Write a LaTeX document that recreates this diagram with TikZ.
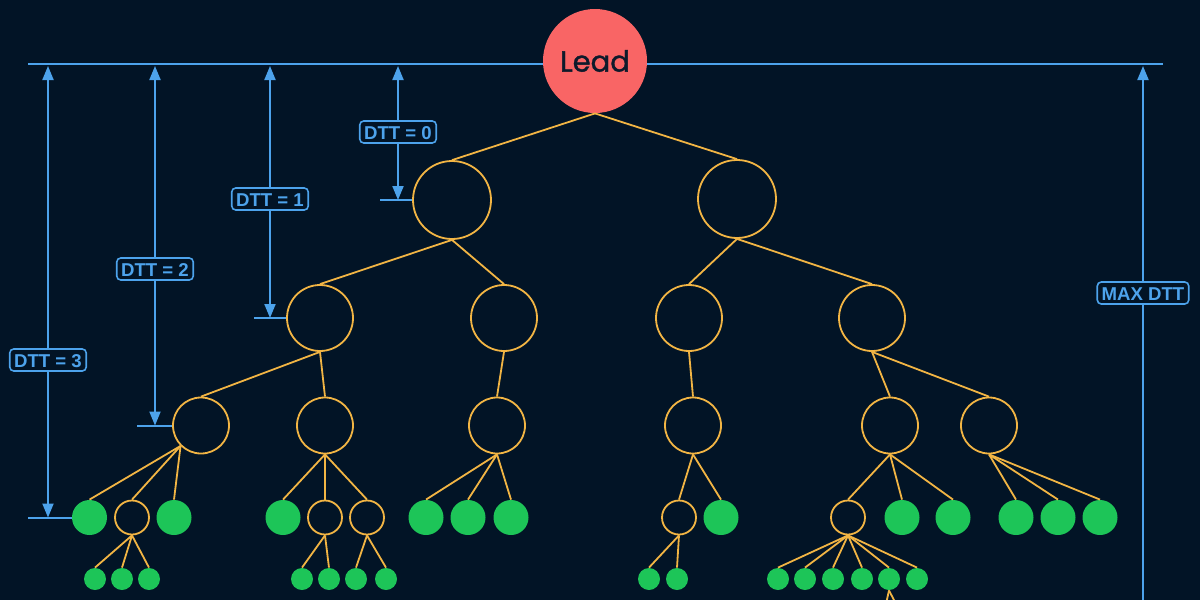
\documentclass[tikz,border=0pt]{standalone}
\usepackage{fontspec}
\setmainfont{Liberation Sans}
\newfontfamily\leadfont{Poppins}[FakeBold=1.2]
\usetikzlibrary{arrows.meta}
\definecolor{bg}{HTML}{021426}
\definecolor{dttblue}{HTML}{4DA3EC}
\definecolor{tree}{HTML}{F2B544}
\definecolor{leafgreen}{HTML}{1DC558}
\definecolor{leadred}{HTML}{F96565}
\definecolor{leadtext}{HTML}{0E1A2B}
\begin{document}
\begin{tikzpicture}[x=0.5pt,y=-0.5pt,
  blueline/.style={draw=dttblue,line width=1pt},
  tipA/.tip={Triangle[width=5.5pt,length=7pt]},
  dimarrow/.style={blueline,tipA-tipA},
  uparrow/.style={blueline,-tipA},
  lab/.style={draw=dttblue,line width=0.8pt,rounded corners=2pt,fill=bg,text=dttblue,
    font=\bfseries\fontsize{9.3}{10}\selectfont,inner xsep=2.2pt,inner ysep=2pt,text height=7pt,text depth=0pt},
  br/.style={draw=tree,line width=0.9pt},
  open/.style={circle,draw=tree,line width=0.9pt,inner sep=0pt,fill=bg},
  leaf/.style={circle,fill=leafgreen,inner sep=0pt},
  big/.style={leaf,minimum size=17.5pt},
  small/.style={leaf,minimum size=11pt},
  obig/.style={open,minimum size=17pt},
]
\fill[bg] (0,0) rectangle (1200,600);
\useasboundingbox (0,0) rectangle (1200,600);

% top reference line
\coordinate (tl) at (28,64);
\coordinate (tr) at (1163,64);
\draw[blueline] (tl) -- (tr);

% root
\node[circle,fill=leadred,minimum size=52pt,inner sep=0pt,text=leadtext,
  font=\leadfont\fontsize{14.5}{15}\selectfont] (lead) at (595,61) {Lead};

% level 1
\node[open,minimum size=39pt] (l1a) at (452,200) {};
\node[open,minimum size=39pt] (l1b) at (737,199) {};
% level 2
\node[open,minimum size=33pt] (l2a) at (320,318) {};
\node[open,minimum size=33pt] (l2b) at (504,318) {};
\node[open,minimum size=33pt] (l2c) at (689,318) {};
\node[open,minimum size=33pt] (l2d) at (872,318) {};
% level 3
\node[open,minimum size=28pt] (c1) at (201,425.5) {};
\node[open,minimum size=28pt] (c2) at (325,425.5) {};
\node[open,minimum size=28pt] (c3) at (497,425.5) {};
\node[open,minimum size=28pt] (c4) at (693,425.5) {};
\node[open,minimum size=28pt] (c5) at (890,425.5) {};
\node[open,minimum size=28pt] (c6) at (989,425.5) {};
% level 4
\node[big]  (a1) at (89.5,517.5) {};
\node[obig] (a2) at (132,517.5) {};
\node[big]  (a3) at (174,517.5) {};
\node[big]  (b1) at (283,517.5) {};
\node[obig] (b2) at (325,517.5) {};
\node[obig] (b3) at (367,517.5) {};
\node[big]  (d1) at (426,517.5) {};
\node[big]  (d2) at (468,517.5) {};
\node[big]  (d3) at (511,517.5) {};
\node[obig] (e1) at (679,517.5) {};
\node[big]  (e2) at (721,517.5) {};
\node[obig] (f1) at (848,517.5) {};
\node[big]  (f2) at (902,517.5) {};
\node[big]  (f3) at (953,517.5) {};
\node[big]  (g1) at (1016,517.5) {};
\node[big]  (g2) at (1058,517.5) {};
\node[big]  (g3) at (1100,517.5) {};
% level 5
\node[small] (a21) at (95,579) {};
\node[small] (a22) at (122,579) {};
\node[small] (a23) at (149,579) {};
\node[small] (b21) at (302,579) {};
\node[small] (b22) at (329,579) {};
\node[small] (b31) at (356,579) {};
\node[small] (b32) at (386,579) {};
\node[small] (e11) at (649,579) {};
\node[small] (e12) at (677,579) {};
\node[small] (f11) at (778,579) {};
\node[small] (f12) at (805,579) {};
\node[small] (f13) at (833,579) {};
\node[small] (f14) at (862,579) {};
\node[small] (f15) at (889,579) {};
\node[small] (f16) at (917,579) {};
\coordinate (fx1) at (886,604);
\coordinate (fx2) at (896,604);

% branches
\draw[br] (lead.south) -- (l1a.north);
\draw[br] (lead.south) -- (l1b.north);
\draw[br] (l1a.south) -- (l2a.north);
\draw[br] (l1a.south) -- (l2b.north);
\draw[br] (l1b.south) -- (l2c.north);
\draw[br] (l1b.south) -- (l2d.north);
\draw[br] (l2a.south) -- (c1.north);
\draw[br] (l2a.south) -- (c2.north);
\draw[br] (l2b.south) -- (c3.north);
\draw[br] (l2c.south) -- (c4.north);
\draw[br] (l2d.south) -- (c5.north);
\draw[br] (l2d.south) -- (c6.north);
\foreach \k in {a1,a2,a3} \draw[br] (c1.-135) -- (\k.north);
\foreach \k in {b1,b2,b3} \draw[br] (c2.south) -- (\k.north);
\foreach \k in {d1,d2,d3} \draw[br] (c3.south) -- (\k.north);
\foreach \k in {e1,e2} \draw[br] (c4.south) -- (\k.north);
\foreach \k in {f1,f2,f3} \draw[br] (c5.south) -- (\k.north);
\foreach \k in {g1,g2,g3} \draw[br] (c6.south) -- (\k.north);
\foreach \k in {a21,a22,a23} \draw[br] (a2.south) -- (\k.north);
\foreach \k in {b21,b22} \draw[br] (b2.south) -- (\k.north);
\foreach \k in {b31,b32} \draw[br] (b3.south) -- (\k.north);
\foreach \k in {e11,e12} \draw[br] (e1.south) -- (\k.north);
\foreach \k in {f11,f12,f13,f14,f15,f16} \draw[br] (f1.south) -- (\k.north);
\draw[br] (f15.south) -- (fx1);
\draw[br] (f15.south) -- (fx2);

% dimension arrows
\coordinate (t0) at (398,66); \coordinate (k0) at (398,200); \coordinate (s0) at (380,200);
\coordinate (t1) at (270,66); \coordinate (k1) at (270,318); \coordinate (s1) at (254,318);
\coordinate (t2) at (155,66); \coordinate (k2) at (155,425.5); \coordinate (s2) at (137,425.5);
\coordinate (t3) at (48,66);  \coordinate (k3) at (48,517.5); \coordinate (s3) at (28,517.5);
\draw[blueline] (s0) -- (l1a.west);
\draw[blueline] (s1) -- (l2a.west);
\draw[blueline] (s2) -- (c1.west);
\draw[blueline] (s3) -- (a1.west);
\draw[dimarrow] (t0) -- (k0);
\draw[dimarrow] (t1) -- (k1);
\draw[dimarrow] (t2) -- (k2);
\draw[dimarrow] (t3) -- (k3);
\node[lab] (d0) at (398,132) {DTT = 0};
\node[lab] (dl1) at (270,199) {DTT = 1};
\node[lab] (dl2) at (155,269) {DTT = 2};
\node[lab] (dl3) at (48,360) {DTT = 3};

\coordinate (mb) at (1143,602);
\coordinate (mt) at (1143,66);
\draw[uparrow] (mb) -- (mt);
\node[lab] (mx) at (1143,293) {MAX DTT};
\end{tikzpicture}
\end{document}
